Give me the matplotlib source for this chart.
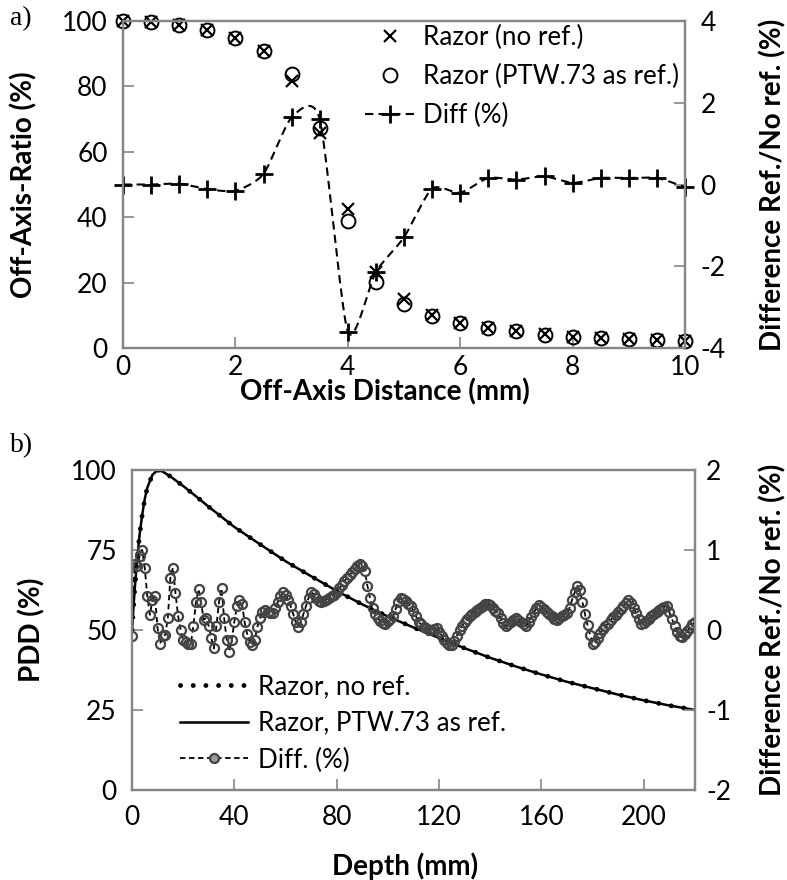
import numpy as np
import matplotlib
matplotlib.use("Agg")
import matplotlib.pyplot as plt
from matplotlib.lines import Line2D

plt.rcParams['font.family'] = ['Lato', 'DejaVu Sans']
plt.rcParams['axes.unicode_minus'] = False

# ---- panel a) off-axis profile ----
oa_dist = [0, 0.5, 1, 1.5, 2, 2.5, 3, 3.5, 4, 4.5, 5, 5.5, 6, 6.5, 7, 7.5, 8, 8.5, 9, 9.5, 10]
oa_noref = [100, 99.7, 98.8, 97.2, 94.9, 90.8, 81.7, 65.9, 42.5, 23.2, 15.1, 10.0, 7.8, 6.1,
            5.2, 4.2, 3.4, 3.0, 2.7, 2.4, 2.1]
oa_ptw = [100, 99.7, 98.8, 97.2, 94.9, 90.8, 83.7, 67.4, 39.0, 20.1, 13.5, 9.8, 7.7, 6.0,
          5.1, 4.1, 3.4, 3.0, 2.7, 2.4, 2.1]
oa_diff = [0.0, 0.0, 0.02, -0.11, -0.15, 0.26, 1.64, 1.6, -3.6, -2.14, -1.29, -0.1, -0.2, 0.16,
           0.12, 0.2, 0.04, 0.16, 0.16, 0.16, -0.06]

# ---- panel b) depth dose ----
pdd_depth = [0, 1, 2, 3, 4, 5, 6, 8, 10, 12, 15, 20, 25, 30, 40, 50, 60, 70, 80, 90, 100,
             110, 120, 130, 140, 150, 160, 170, 180, 190, 200, 210, 220]
pdd_noref = [50, 62, 72, 80, 86, 91, 94.5, 98.5, 100, 99.5, 98, 95, 91.8, 88.5, 82.2, 76.8,
             71.5, 66.8, 62.2, 58, 54.2, 50.8, 47.5, 44.3, 41.3, 38.6, 36.1, 33.8, 31.8,
             29.8, 28.0, 26.4, 25.0]
pdd_ptw = list(pdd_noref)

diff_depth = list(range(0, 221))
pdd_diff = [
    -0.08, 0.83, 0.80, 0.92, 1.00, 0.77, 0.42, 0.19, 0.38, 0.42,
    0.02, -0.17, -0.08, -0.06, 0.15, 0.65, 0.78, 0.46, 0.18, 0.00,
    -0.13, -0.15, -0.17, -0.17, 0.05, 0.35, 0.51, 0.35, 0.13, 0.15,
    0.05, -0.10, -0.23, 0.05, 0.35, 0.52, 0.15, -0.12, -0.27, -0.12,
    0.10, 0.30, 0.37, 0.33, 0.10, -0.05, -0.15, -0.19, -0.12, 0.04,
    0.15, 0.22, 0.25, 0.23, 0.21, 0.21, 0.28, 0.35, 0.42, 0.47,
    0.44, 0.37, 0.30, 0.20, 0.10, 0.04, 0.10, 0.20, 0.30, 0.40,
    0.47, 0.45, 0.40, 0.36, 0.35, 0.36, 0.38, 0.40, 0.42, 0.44,
    0.48, 0.52, 0.56, 0.61, 0.65, 0.69, 0.72, 0.76, 0.80, 0.82,
    0.80, 0.74, 0.55, 0.40, 0.28, 0.20, 0.15, 0.11, 0.09, 0.08,
    0.11, 0.14, 0.17, 0.26, 0.35, 0.40, 0.39, 0.36, 0.33, 0.30,
    0.24, 0.17, 0.10, 0.07, 0.04, 0.02, 0.00, 0.00, 0.01, 0.02,
    -0.02, -0.07, -0.12, -0.16, -0.19, -0.19, -0.14, -0.07, 0.00, 0.05,
    0.10, 0.14, 0.17, 0.20, 0.23, 0.25, 0.28, 0.30, 0.32, 0.33,
    0.31, 0.27, 0.24, 0.21, 0.15, 0.09, 0.05, 0.07, 0.10, 0.13,
    0.15, 0.13, 0.10, 0.07, 0.05, 0.10, 0.16, 0.22, 0.27, 0.31,
    0.29, 0.26, 0.23, 0.20, 0.17, 0.14, 0.13, 0.15, 0.17, 0.19,
    0.21, 0.28, 0.38, 0.47, 0.55, 0.50, 0.35, 0.20, 0.06, -0.06,
    -0.17, -0.15, -0.10, -0.04, 0.01, 0.05, 0.08, 0.12, 0.16, 0.19,
    0.23, 0.26, 0.30, 0.34, 0.37, 0.34, 0.28, 0.21, 0.14, 0.08,
    0.09, 0.11, 0.14, 0.17, 0.20, 0.22, 0.25, 0.27, 0.29, 0.30,
    0.22, 0.14, 0.05, -0.02, -0.08, -0.09, -0.05, -0.01, 0.03, 0.07,
    0.10,
]


def smooth(x, y, n=20, k=0.7):
    # smoothed line like Excel's, cubic Hermite with reduced tangents
    x = np.asarray(x, float)
    y = np.asarray(y, float)
    px = np.concatenate([[x[0]], x, [x[-1]]])
    py = np.concatenate([[y[0]], y, [y[-1]]])
    t = np.linspace(0, 1, n, endpoint=False)
    h00 = 2 * t**3 - 3 * t**2 + 1
    h10 = t**3 - 2 * t**2 + t
    h01 = -2 * t**3 + 3 * t**2
    h11 = t**3 - t**2
    xs, ys = [], []
    for i in range(1, len(px) - 2):
        for arr, out in ((px, xs), (py, ys)):
            m1 = k * 0.5 * (arr[i + 1] - arr[i - 1])
            m2 = k * 0.5 * (arr[i + 2] - arr[i])
            out.extend(h00 * arr[i] + h10 * m1 + h01 * arr[i + 1] + h11 * m2)
    xs.append(x[-1])
    ys.append(y[-1])
    return xs, ys


grey = '#868686'
fs = 18.7
lab = 20


def style(ax):
    for s in ax.spines.values():
        s.set_color(grey)
        s.set_linewidth(1.6)
    ax.tick_params(direction='in', length=8, width=1.2, color=grey, labelsize=19)


fig = plt.figure(figsize=(7.87, 8.8), dpi=100)

# panel a
ax1 = fig.add_axes([0.1563, 0.6045, 0.7141, 0.3716])
ax1b = ax1.twinx()
ax1.plot(oa_dist, oa_noref, 'x', color='black', ms=8, mew=1.6, clip_on=False)
ax1.plot(oa_dist, oa_ptw, 'o', mfc='none', mec='black', ms=10, mew=1.4, clip_on=False)
sx, sy = smooth(oa_dist, oa_diff)
ax1b.plot(sx, sy, color='black', ls=(0, (4, 2.5)), lw=1.5)
ax1b.plot(oa_dist, oa_diff, '+', color='black', ms=13, mew=2, clip_on=False)
ax1.set_xlim(0, 10)
ax1.set_ylim(0, 100)
ax1b.set_ylim(-4, 4)
ax1.set_xticks([0, 2, 4, 6, 8, 10])
ax1.set_yticks([0, 20, 40, 60, 80, 100])
ax1b.set_yticks([-4, -2, 0, 2, 4])
style(ax1)
style(ax1b)
ax1.tick_params(axis='x', pad=5)
ax1.tick_params(axis='y', pad=11)
ax1b.tick_params(axis='y', pad=11)
ax1.set_xlabel('Off-Axis Distance (mm)', fontsize=lab, fontweight='bold')
ax1.set_ylabel('Off-Axis-Ratio (%)', fontsize=lab, fontweight='bold')
ax1b.set_ylabel('Difference Ref./No ref. (%)', fontsize=lab, fontweight='bold')
ax1.xaxis.set_label_coords(0.466, -0.094)
ax1.yaxis.set_label_coords(-0.152, 0.5)
ax1b.yaxis.set_label_coords(1.133, 0.5)
h1 = [Line2D([], [], ls='none', marker='x', color='black', ms=8, mew=1.6),
      Line2D([], [], ls='none', marker='o', mfc='none', mec='black', ms=10, mew=1.4),
      Line2D([], [], color='black', ls=(0, (4, 2.5)), lw=1.5, marker='+', ms=13, mew=2)]
ax1b.legend(h1, ['Razor (no ref.)', 'Razor (PTW.73 as ref.)', 'Diff (%)'],
            loc='upper left', bbox_to_anchor=(365 / 787, 0.972), bbox_transform=fig.transFigure,
            frameon=False, fontsize=fs, handlelength=1.95, handletextpad=0.3,
            labelspacing=0.55, borderpad=0, borderaxespad=0)

# panel b
ax2 = fig.add_axes([0.1677, 0.1023, 0.7154, 0.3636])
ax2b = ax2.twinx()
ax2.plot(pdd_depth, pdd_noref, color='black', lw=3.5, ls=(0, (0.01, 2.6)),
         dash_capstyle='round')
ax2.plot(pdd_depth, pdd_ptw, color='black', lw=1.8)
ax2b.plot(diff_depth, pdd_diff, color='black', ls=(0, (3, 2)), lw=1.3, marker='o',
          ms=6.5, mfc='none', mec='#444444', mew=1.6)
ax2.set_xlim(0, 220)
ax2.set_ylim(0, 100)
ax2b.set_ylim(-2, 2)
ax2.set_xticks([0, 40, 80, 120, 160, 200])
ax2.set_yticks([0, 25, 50, 75, 100])
ax2b.set_yticks([-2, -1, 0, 1, 2])
style(ax2)
style(ax2b)
ax2.tick_params(axis='x', pad=11)
ax2.tick_params(axis='y', pad=11)
ax2b.tick_params(axis='y', pad=8)
ax2.set_xlabel('Depth (mm)', fontsize=lab, fontweight='bold')
ax2.set_ylabel('PDD (%)', fontsize=lab, fontweight='bold')
ax2b.set_ylabel('Difference Ref./No ref. (%)', fontsize=lab, fontweight='bold')
ax2.xaxis.set_label_coords(0.485, -0.194)
ax2.yaxis.set_label_coords(-0.153, 0.5)
ax2b.yaxis.set_label_coords(1.115, 0.5)
h2 = [Line2D([], [], color='black', lw=3.5, ls=(0, (0.01, 2.6)), dash_capstyle='round'),
      Line2D([], [], color='black', lw=1.8),
      Line2D([], [], color='black', ls=(0, (3, 2)), lw=1.3, marker='o', ms=6.5,
             mfc='#999999', mec='#444444', mew=1.6)]
ax2b.legend(h2, ['Razor, no ref.', 'Razor, PTW.73 as ref.', 'Diff. (%)'],
            loc='upper left', bbox_to_anchor=(180 / 787, 0.234), bbox_transform=fig.transFigure,
            frameon=False, fontsize=fs, handlelength=2.6, handletextpad=0.42,
            labelspacing=0.45, borderpad=0, borderaxespad=0)

fig.text(0.013, 0.979, 'a)', fontsize=20, family='Liberation Serif', va='center')
fig.text(0.013, 0.494, 'b)', fontsize=20, family='Liberation Serif', va='center')

fig.savefig('out.png', dpi=100)
